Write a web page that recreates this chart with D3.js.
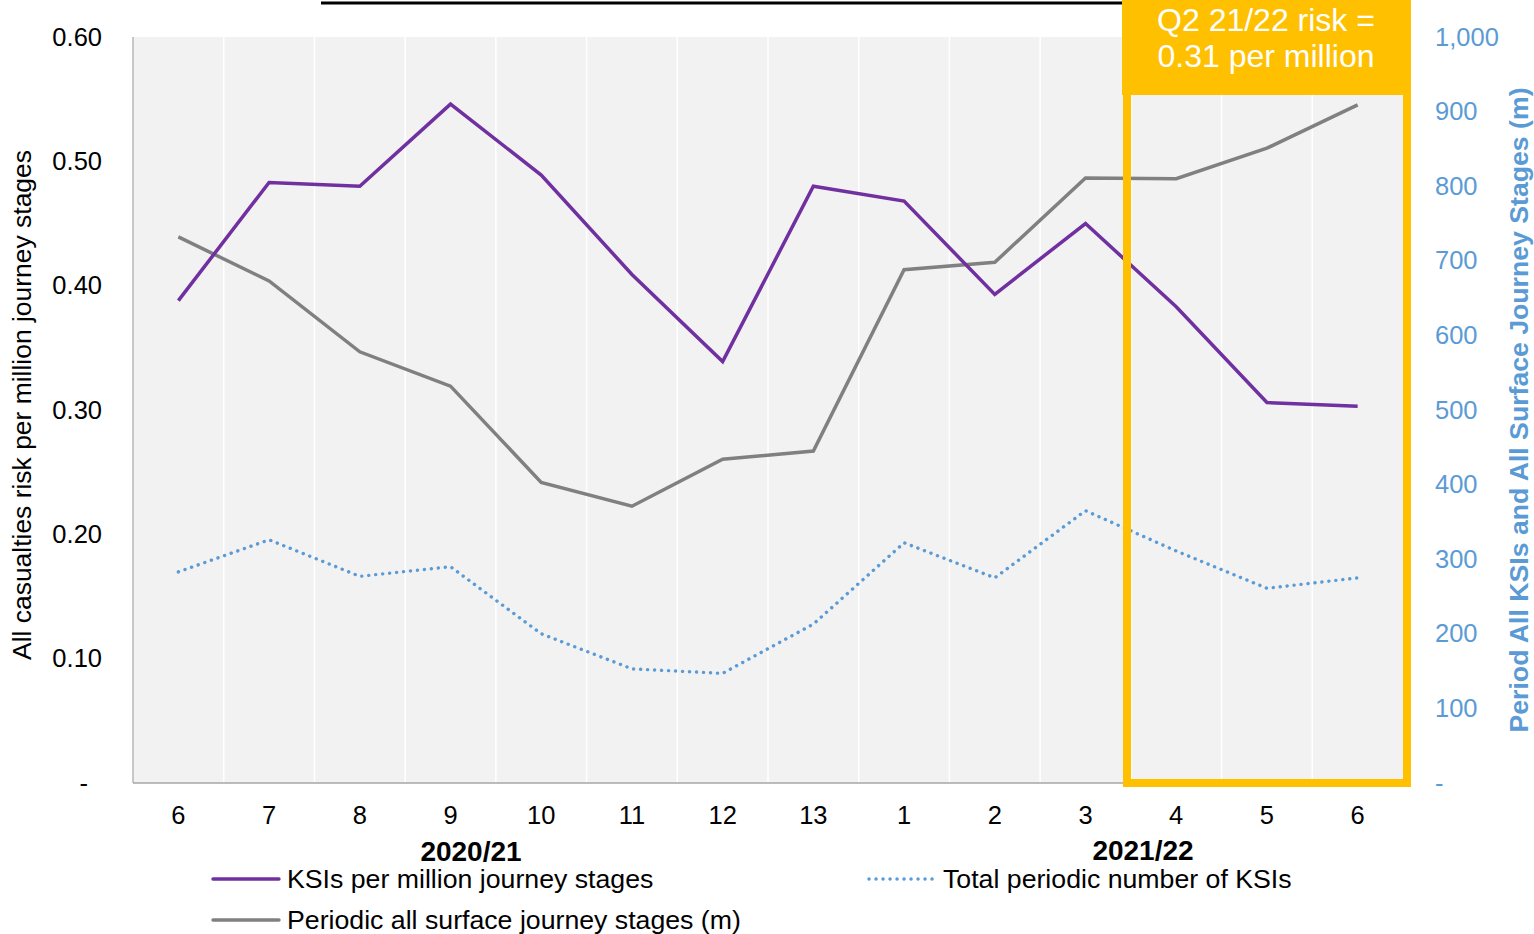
<!DOCTYPE html>
<html>
<head>
<meta charset="utf-8">
<script src="https://cdn.jsdelivr.net/npm/d3@7"></script>
<style>
  body { margin: 0; background: #fff; }
  svg { display: block; font-family: "Liberation Sans", Arial, sans-serif; }
</style>
</head>
<body>
<svg id="chart" width="1534" height="934"></svg>
<script>
// periods (2020/21 P6 .. 2021/22 P6)
var periods = ["6","7","8","9","10","11","12","13","1","2","3","4","5","6"];
var keys = periods.map(function(p, i){ return i + "-" + p; });
var ksiRisk = [0.388,0.483,0.480,0.546,0.489,0.409,0.339,0.480,0.468,0.393,0.450,0.383,0.306,0.303];
var journeyStages = [732,673,578,532,403,371,434,445,688,698,811,810,851,909];
var ksiCount = [283,326,277,290,200,153,147,213,322,275,365,311,261,275];
var leftTicks = [0,0.1,0.2,0.3,0.4,0.5,0.6];
var rightTicks = [0,100,200,300,400,500,600,700,800,900,1000];

var svg = d3.select("#chart");
var pl = 133, pr = 1403, pt = 37, pb = 783;

var x = d3.scaleBand().domain(keys).range([pl, pr]);
var yL = d3.scaleLinear().domain([0, 0.6]).range([pb, pt]);
var yR = d3.scaleLinear().domain([0, 1000]).range([pb, pt]);
var cx = function(i){ return x(keys[i]) + x.bandwidth() / 2; };

// title underline (title itself is cropped out)
svg.append("line").attr("x1", 321).attr("x2", 1122).attr("y1", 3).attr("y2", 3)
  .attr("stroke", "#000").attr("stroke-width", 3);

// plot area
svg.append("rect").attr("x", pl).attr("y", pt).attr("width", pr - pl).attr("height", pb - pt)
  .attr("fill", "#f2f2f2");

svg.append("g").selectAll("line").data(keys.slice(1)).enter().append("line")
  .attr("x1", function(d){ return x(d); }).attr("x2", function(d){ return x(d); })
  .attr("y1", pt).attr("y2", pb)
  .attr("stroke", "#fff").attr("stroke-width", 1.5);

svg.append("line").attr("x1", pl).attr("x2", pl).attr("y1", pt).attr("y2", pb)
  .attr("stroke", "#a6a6a6").attr("stroke-width", 1.2);
svg.append("line").attr("x1", pl).attr("x2", pr).attr("y1", pb).attr("y2", pb)
  .attr("stroke", "#a6a6a6").attr("stroke-width", 1.5);

// left axis
var gL = svg.append("g").attr("transform", "translate(" + pl + ",0)")
  .call(d3.axisLeft(yL).tickValues(leftTicks).tickSize(0).tickPadding(31)
    .tickFormat(function(d){ return d === 0 ? "-" : d3.format(".2f")(d); }));
gL.select(".domain").remove();
gL.selectAll("text").attr("font-size", 25.5).attr("fill", "#000").attr("font-family", "Liberation Sans, Arial");
gL.selectAll("text").filter(function(d){ return d === 0; }).attr("dx", -14);

// right axis
var gR = svg.append("g").attr("transform", "translate(" + pr + ",0)")
  .call(d3.axisRight(yR).tickValues(rightTicks).tickSize(0).tickPadding(32)
    .tickFormat(function(d){ return d === 0 ? "-" : d3.format(",")(d); }));
gR.select(".domain").remove();
gR.selectAll("text").attr("font-size", 25.5).attr("fill", "#5b9bd5").attr("font-family", "Liberation Sans, Arial");

// x axis
var gX = svg.append("g").attr("transform", "translate(0," + pb + ")")
  .call(d3.axisBottom(x).tickSize(0).tickPadding(23).tickFormat(function(d){ return d.split("-")[1]; }));
gX.select(".domain").remove();
gX.selectAll("text").attr("font-size", 25.5).attr("fill", "#000").attr("font-family", "Liberation Sans, Arial");

svg.append("text").attr("x", 471).attr("y", 861).attr("text-anchor", "middle")
  .attr("font-size", 28).attr("font-weight", "bold").text("2020/21");
svg.append("text").attr("x", 1143).attr("y", 860).attr("text-anchor", "middle")
  .attr("font-size", 28).attr("font-weight", "bold").text("2021/22");

// axis titles
svg.append("text").attr("transform", "translate(31,405) rotate(-90)").attr("text-anchor", "middle")
  .attr("font-size", 25).attr("fill", "#000")
  .attr("textLength", 510).attr("lengthAdjust", "spacingAndGlyphs")
  .text("All casualties risk per million journey stages");
svg.append("text").attr("transform", "translate(1528,410) rotate(-90)").attr("text-anchor", "middle")
  .attr("font-size", 25).attr("font-weight", "bold").attr("fill", "#5b9bd5")
  .attr("textLength", 645).attr("lengthAdjust", "spacingAndGlyphs")
  .text("Period All KSIs and All Surface Journey Stages (m)");

// lines
var lineL = d3.line().x(function(d, i){ return cx(i); }).y(function(d){ return yL(d); });
var lineR = d3.line().x(function(d, i){ return cx(i); }).y(function(d){ return yR(d); });

svg.append("path").datum(ksiCount).attr("d", lineR).attr("fill", "none")
  .attr("stroke", "#5b9bd5").attr("stroke-width", 3.4)
  .attr("stroke-linecap", "round").attr("stroke-dasharray", "0.1,6.9");
svg.append("path").datum(journeyStages).attr("d", lineR).attr("fill", "none")
  .attr("stroke", "#808080").attr("stroke-width", 3.5);
svg.append("path").datum(ksiRisk).attr("d", lineL).attr("fill", "none")
  .attr("stroke", "#7030a0").attr("stroke-width", 3.5);

// highlight box
var hl = svg.append("g");
hl.append("rect").attr("x", 1127).attr("y", 80).attr("width", 280).attr("height", 703)
  .attr("fill", "none").attr("stroke", "#ffc000").attr("stroke-width", 8);
hl.append("rect").attr("x", 1122).attr("y", 0).attr("width", 289).attr("height", 95).attr("fill", "#ffc000");
hl.append("text").attr("x", 1266).attr("y", 31).attr("text-anchor", "middle")
  .attr("font-size", 32).attr("fill", "#fff").text("Q2 21/22 risk =");
hl.append("text").attr("x", 1266).attr("y", 67).attr("text-anchor", "middle")
  .attr("font-size", 32).attr("fill", "#fff").text("0.31 per million");

// legend
var legend = [
  {label: "KSIs per million journey stages", color: "#7030a0", dash: null, lx: 211, ly: 879},
  {label: "Total periodic number of KSIs", color: "#5b9bd5", dash: "0.1,6.9", lx: 867, ly: 879},
  {label: "Periodic all surface journey stages (m)", color: "#808080", dash: null, lx: 211, ly: 920}
];
var lg = svg.append("g").selectAll("g").data(legend).enter().append("g");
lg.append("line").attr("x1", function(d){ return d.lx + 2; }).attr("x2", function(d){ return d.lx + 68; })
  .attr("y1", function(d){ return d.ly; }).attr("y2", function(d){ return d.ly; })
  .attr("stroke", function(d){ return d.color; }).attr("stroke-width", 3.4)
  .attr("stroke-linecap", "round")
  .attr("stroke-dasharray", function(d){ return d.dash; });
lg.append("text").attr("x", function(d){ return d.lx + 76; }).attr("y", function(d){ return d.ly + 9; })
  .attr("font-size", 26.7).attr("fill", "#000").text(function(d){ return d.label; });
</script>
</body>
</html>
